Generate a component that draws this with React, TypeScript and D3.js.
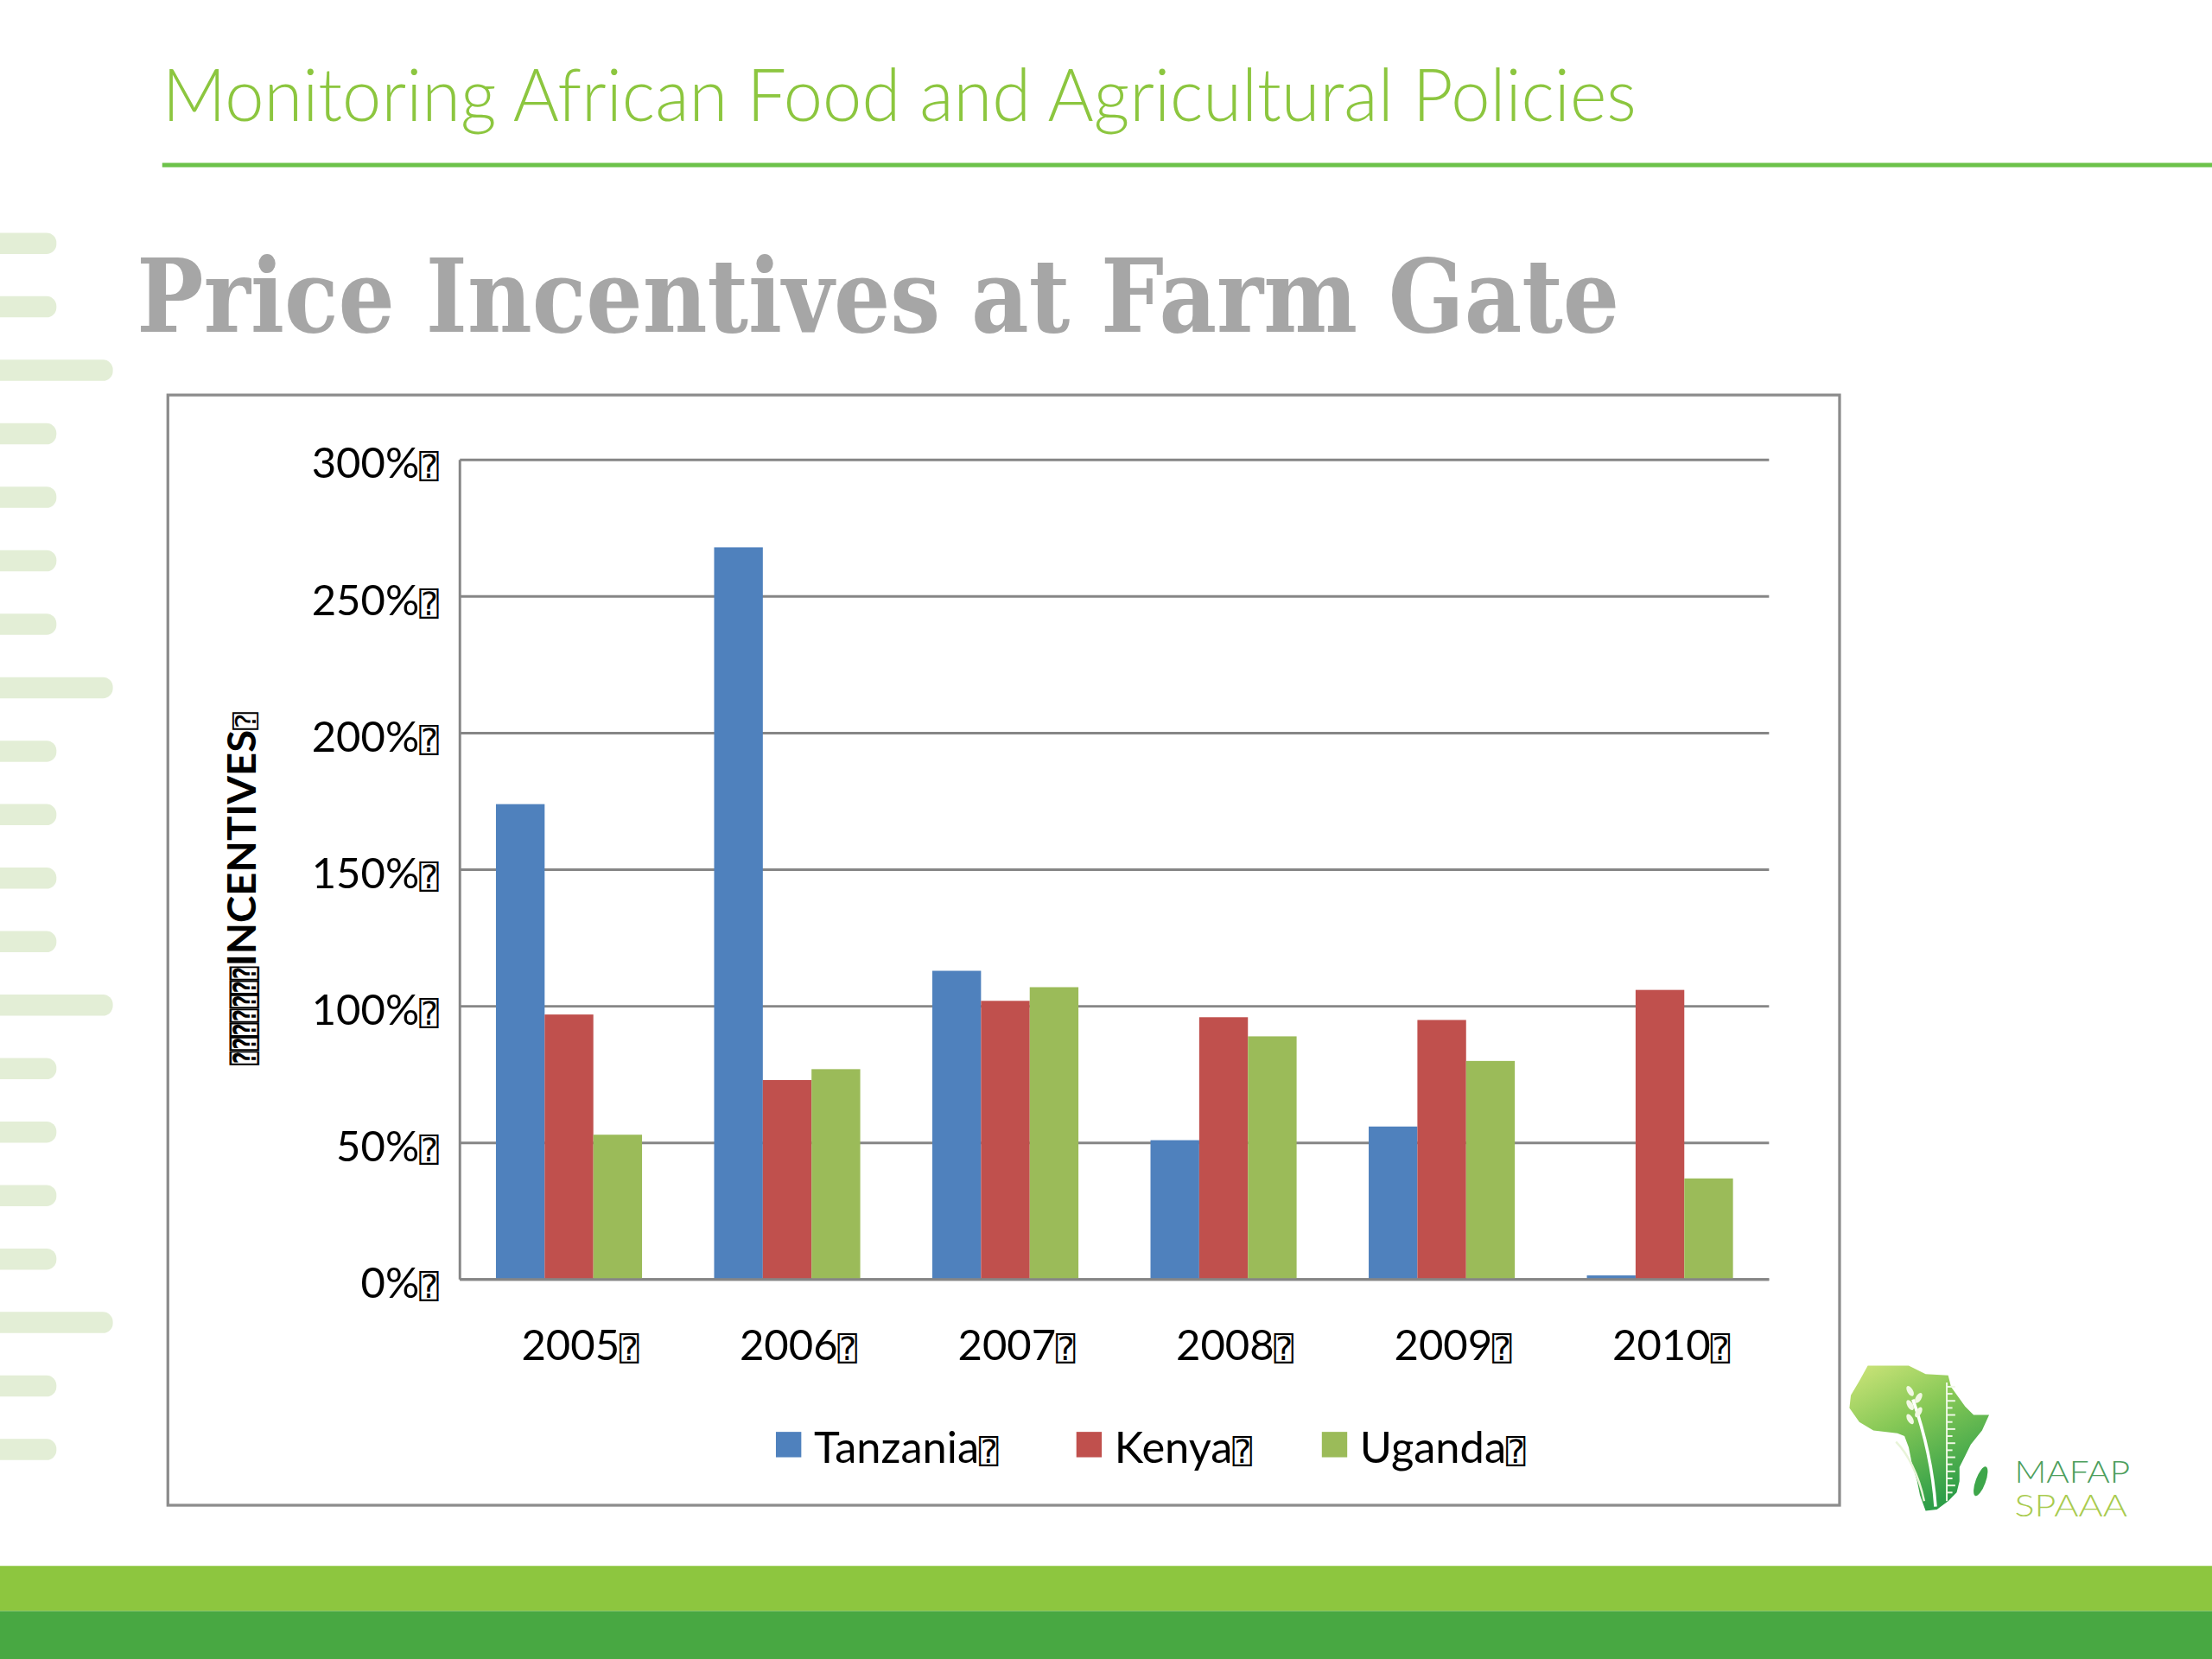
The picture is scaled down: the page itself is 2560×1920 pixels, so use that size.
import { scaleBand, scaleLinear, line, curveLinearClosed } from "d3";

// chart values
const years = ["2005", "2006", "2007", "2008", "2009", "2010"];
const seriesNames = ["Tanzania", "Kenya", "Uganda"];
const tanzania = [174, 268, 113, 51, 56, 1.5];
const kenya = [97, 73, 102, 96, 95, 106];
const uganda = [53, 77, 107, 89, 80, 37];
const yTicks = [0, 50, 100, 150, 200, 250, 300];

const seriesValues = [tanzania, kenya, uganda];
const colors = ["#4F81BD", "#C0504D", "#9BBB59"];
const TOFU = "\u2370"; // the missing-glyph box that shows after every label

// slide is laid out in 1568x1176 units, scaled up to the 2560x1920 page
const W = 1568;
const H = 1176;
const plot = { left: 326, right: 1254, top: 326, bottom: 907 };
const labelFont = "Lato, 'Open Sans', sans-serif";
const tofuFont = "'DejaVu Sans Mono', 'DejaVu Sans'";

const x0 = scaleBand<string>().domain(years).range([plot.left, plot.right]);
const x1 = scaleBand<string>()
  .domain(seriesNames)
  .range([0, x0.bandwidth()])
  .paddingOuter(0.74);
const y = scaleLinear().domain([0, 300]).range([plot.bottom, plot.top]);

// rough outline of the logo
const africa: [number, number][] = [
  [1324, 968], [1353, 968], [1365, 974], [1381, 975], [1383, 983],
  [1393, 997], [1399, 1003], [1410, 1003], [1405, 1014], [1397, 1024],
  [1393, 1032], [1389, 1040], [1389, 1050], [1387, 1058], [1381, 1064],
  [1373, 1070], [1365, 1071], [1361, 1060], [1359, 1050], [1355, 1036],
  [1353, 1026], [1350, 1018], [1345, 1016], [1328, 1014], [1318, 1008],
  [1311, 998], [1312, 989], [1318, 979],
];
const africaPath = line().curve(curveLinearClosed)(africa) as string;

const dashRows = Array.from({ length: 20 }, (_, i) => i);
const rulerTicks = Array.from({ length: 16 }, (_, i) => i);

export default function App() {
  return (
    <svg
      width={2560}
      height={1920}
      viewBox={`0 0 ${W} ${H}`}
      style={{ position: "absolute", left: 0, top: 0 }}
    >
      <defs>
        <linearGradient id="afr" x1="0" y1="0" x2="0.5" y2="1">
          <stop offset="0" stopColor="#cfe57a" />
          <stop offset="0.45" stopColor="#86c856" />
          <stop offset="1" stopColor="#2e9e48" />
        </linearGradient>
      </defs>
      <rect x={0} y={0} width={W} height={H} fill="#ffffff" />

      {/* left decoration */}
      {dashRows.map((i) => (
        <rect
          key={i}
          x={-10}
          y={165 + i * 45}
          width={i % 5 === 2 ? 90 : 50}
          height={15}
          rx={7}
          fill="#e3eed6"
        />
      ))}

      {/* header */}
      <text
        x={115}
        y={86}
        fontFamily={labelFont}
        fontWeight={300}
        fontSize={52}
        fill="#8cc63f"
        textLength={1045}
        lengthAdjust="spacingAndGlyphs"
      >
        Monitoring African Food and Agricultural Policies
      </text>
      <line x1={115} x2={W} y1={117} y2={117} stroke="#6cc24a" strokeWidth={3} />

      <text
        x={97}
        y={235}
        fontFamily="'DejaVu Serif', 'Liberation Serif', serif"
        fontWeight={700}
        fontSize={72}
        fill="#a6a6a6"
        textLength={1051}
        lengthAdjust="spacingAndGlyphs"
      >
        Price Incentives at Farm Gate
      </text>

      {/* chart frame */}
      <rect x={119} y={280} width={1185} height={787} fill="#ffffff" stroke="#8c8c8c" strokeWidth={2} />

      {/* grid */}
      {yTicks.map((t) => (
        <line
          key={t}
          x1={plot.left}
          x2={plot.right}
          y1={y(t)}
          y2={y(t)}
          stroke="#868686"
          strokeWidth={1.8}
        />
      ))}

      {/* bars */}
      {years.map((yr, i) => (
        <g key={yr} transform={`translate(${x0(yr)},0)`}>
          {seriesNames.map((s, k) => (
            <rect
              key={s}
              x={x1(s)}
              y={y(seriesValues[k][i])}
              width={x1.bandwidth()}
              height={y(0) - y(seriesValues[k][i])}
              fill={colors[k]}
            />
          ))}
        </g>
      ))}

      <line x1={plot.left} x2={plot.right} y1={y(0)} y2={y(0)} stroke="#868686" strokeWidth={1.8} />
      <line x1={plot.left} x2={plot.left} y1={y(300)} y2={y(0)} stroke="#868686" strokeWidth={1.8} />

      {/* y tick labels */}
      {yTicks.map((t) => (
        <text
          key={t}
          x={311}
          y={y(t) + 13}
          textAnchor="end"
          fontFamily={labelFont}
          fontSize={30}
          fill="#000"
        >
          {t + "%"}
          <tspan fontFamily={tofuFont} fontSize={23}>{TOFU}</tspan>
        </text>
      ))}

      {/* y axis title */}
      <text
        transform="translate(181,755) rotate(-90)"
        fontFamily={tofuFont}
        fontWeight={700}
        fontSize={22}
        textLength={70}
        lengthAdjust="spacingAndGlyphs"
      >
        {TOFU.repeat(7)}
      </text>
      <text
        transform="translate(181,685) rotate(-90)"
        fontFamily={labelFont}
        fontWeight={700}
        fontSize={28}
        textLength={180}
        lengthAdjust="spacingAndGlyphs"
      >
        INCENTIVES
        <tspan fontFamily={tofuFont} fontWeight={400} fontSize={20}>{TOFU}</tspan>
      </text>

      {/* x labels */}
      {years.map((yr) => (
        <text
          key={yr}
          x={(x0(yr) as number) + x0.bandwidth() / 2 + 8}
          y={964}
          textAnchor="middle"
          fontFamily={labelFont}
          fontSize={30}
        >
          {yr}
          <tspan fontFamily={tofuFont} fontSize={23}>{TOFU}</tspan>
        </text>
      ))}

      {/* legend */}
      {seriesNames.map((s, k) => {
        const lx = [550, 763, 937][k];
        return (
          <g key={s}>
            <rect x={lx} y={1015} width={18} height={18} fill={colors[k]} />
            <text x={lx + 27} y={1037} fontFamily={labelFont} fontSize={31}>
              {s}
              <tspan fontFamily={tofuFont} fontSize={23}>{TOFU}</tspan>
            </text>
          </g>
        );
      })}

      {/* logo */}
      <path d={africaPath} fill="url(#afr)" />
      <path
        d="M1372,1068 C1370,1040 1364,1015 1356,992"
        fill="none"
        stroke="#ffffff"
        strokeWidth={2.2}
      />
      <path
        d="M1364,1064 C1360,1045 1352,1030 1344,1022"
        fill="none"
        stroke="#e8f4d8"
        strokeWidth={1.5}
      />
      {[0, 1, 2, 3, 4].map((j) => (
        <ellipse
          key={j}
          cx={1357 + (j % 2 === 0 ? -3 : 3)}
          cy={986 + j * 5}
          rx={2}
          ry={4}
          transform={`rotate(${j % 2 === 0 ? -30 : 30} ${1357 + (j % 2 === 0 ? -3 : 3)} ${986 + j * 5})`}
          fill="#f2f8e4"
        />
      ))}
      <line x1={1380} x2={1380} y1={980} y2={1064} stroke="#f0f8e6" strokeWidth={1.2} />
      {rulerTicks.map((j) => (
        <line
          key={j}
          x1={1380}
          x2={j % 2 === 0 ? 1386 : 1384}
          y1={983 + j * 5}
          y2={983 + j * 5}
          stroke="#f0f8e6"
          strokeWidth={1.2}
        />
      ))}
      <ellipse cx={1404} cy={1050} rx={3.5} ry={11} transform="rotate(20 1404 1050)" fill="#3ea64a" />
      <text
        x={1428}
        y={1051}
        fontFamily={labelFont}
        fontWeight={300}
        fontSize={22}
        fill="#4c9e5c"
        textLength={82}
        lengthAdjust="spacingAndGlyphs"
      >
        MAFAP
      </text>
      <text
        x={1428}
        y={1075}
        fontFamily={labelFont}
        fontWeight={300}
        fontSize={22}
        fill="#a9cb4e"
        textLength={80}
        lengthAdjust="spacingAndGlyphs"
      >
        SPAAA
      </text>

      {/* footer bands */}
      <rect x={0} y={1110} width={W} height={32} fill="#8dc63f" />
      <rect x={0} y={1142} width={W} height={34} fill="#48a842" />
    </svg>
  );
}
